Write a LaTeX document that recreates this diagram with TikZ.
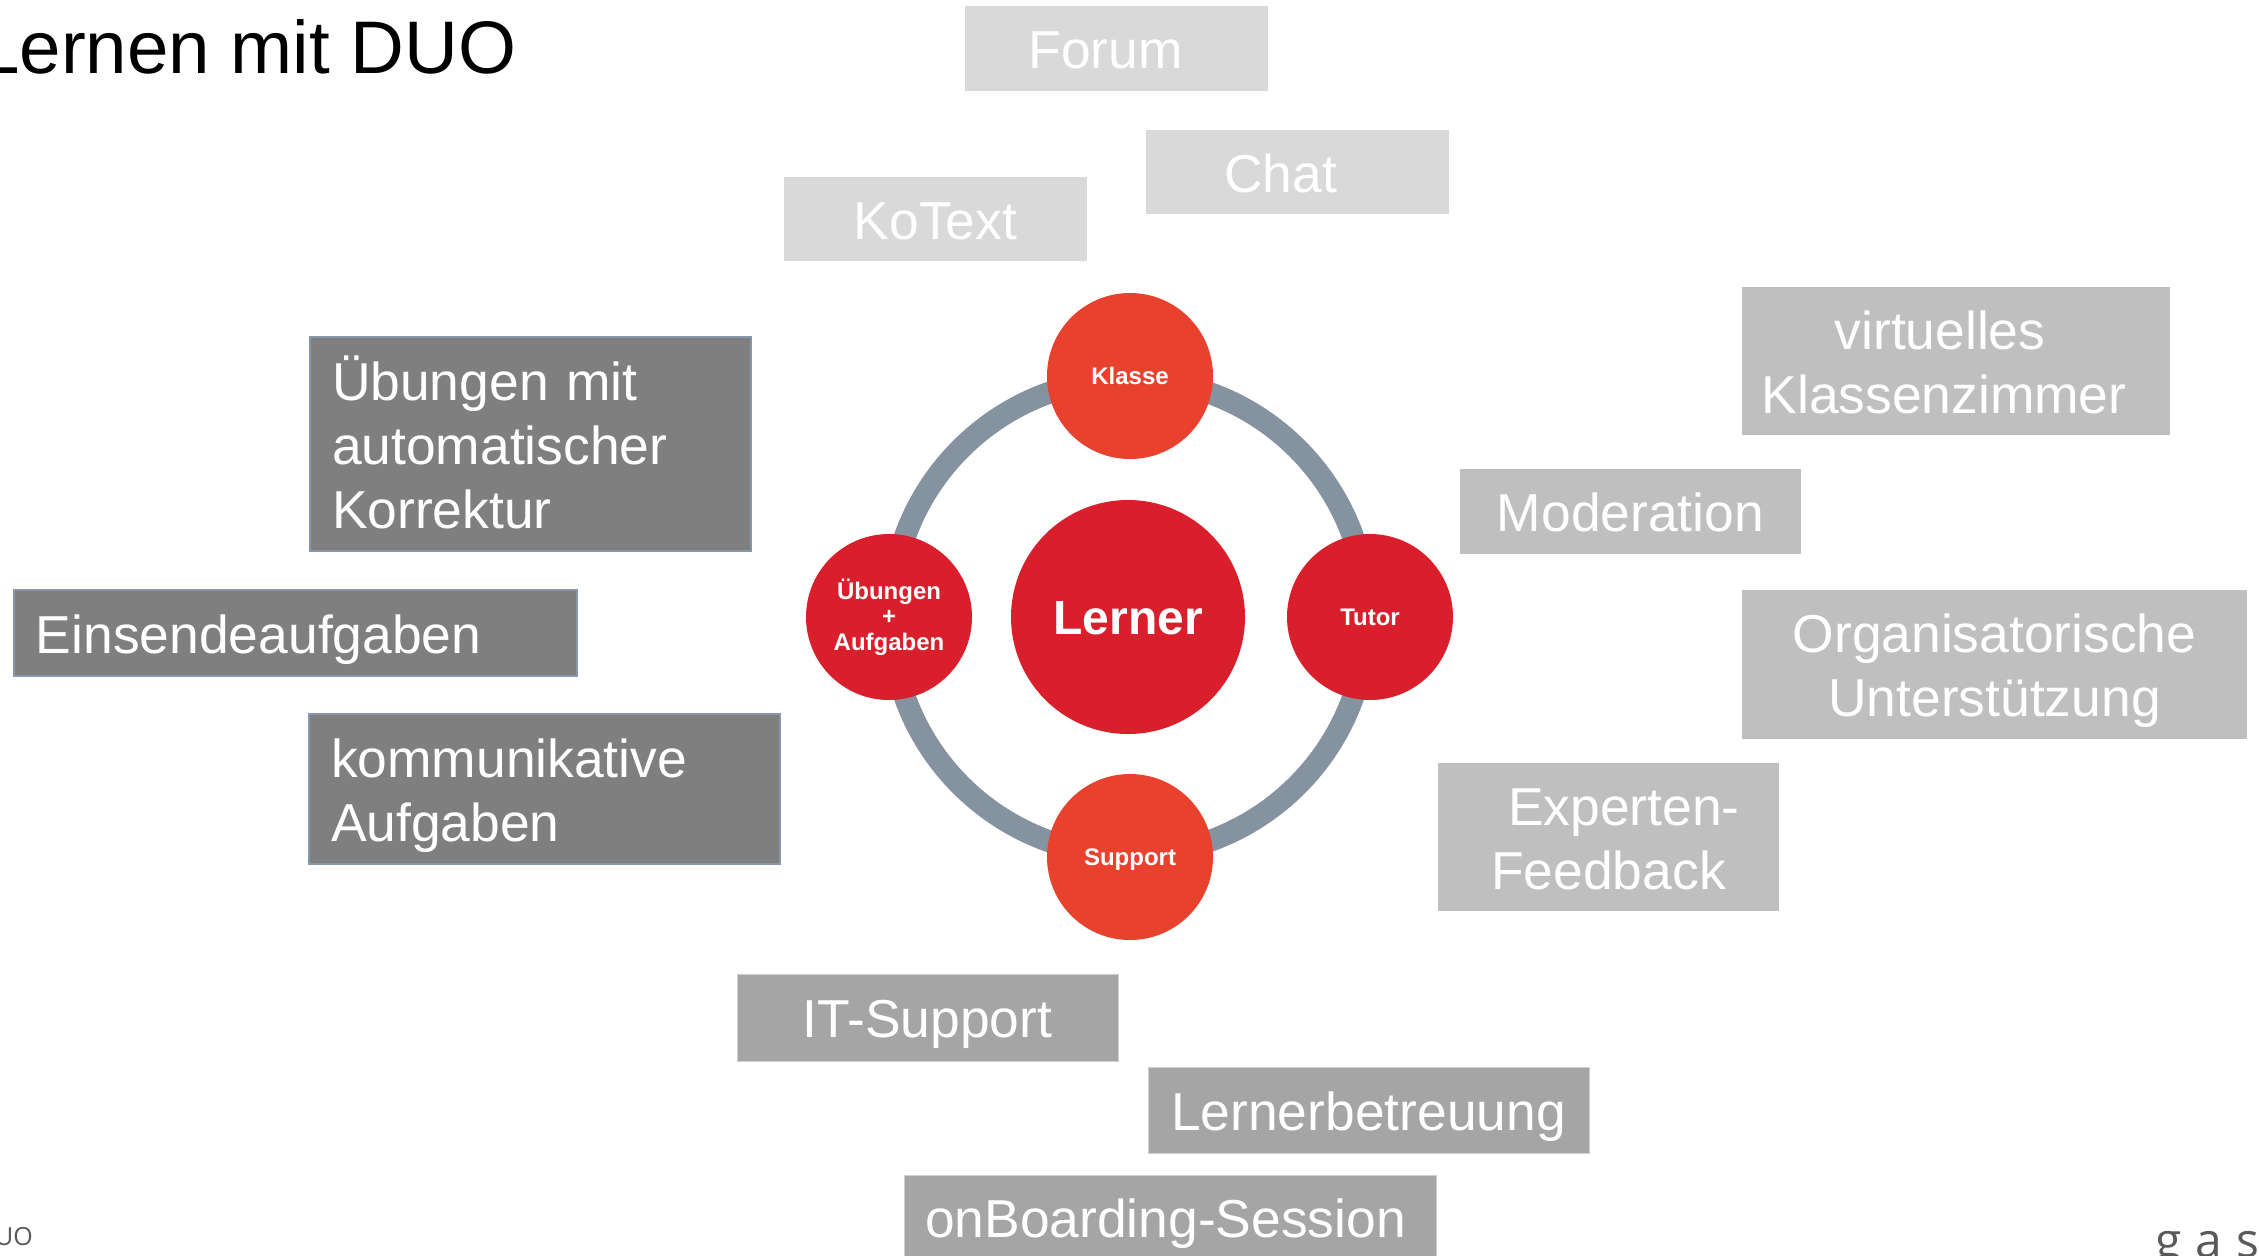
\documentclass[tikz,border=0pt]{standalone}
\usepackage{fontspec}
\setmainfont{Liberation Sans}
\newfontfamily\opensans{Open Sans}
\definecolor{cLight}{HTML}{D9D9D9}
\definecolor{cMid}{HTML}{BFBFBF}
\definecolor{cBot}{HTML}{A5A5A5}
\definecolor{cBotBorder}{HTML}{CFCFCF}
\definecolor{cDark}{HTML}{7F7F7F}
\definecolor{cDarkBorder}{HTML}{8797AB}
\definecolor{cRing}{HTML}{8593A0}
\definecolor{cRed}{HTML}{D91F2B}
\definecolor{cOrange}{HTML}{E8412D}
\definecolor{cFoot}{HTML}{595959}
\newcommand\boxfont{\fontsize{53.4bp}{64bp}\selectfont}
\newcommand\trail[1]{\hspace*{#1}\null}
\tikzset{
  box/.style={rectangle, inner sep=0pt, text=white, font=\boxfont,
    text height=40bp, text depth=0pt},
  lightbox/.style={box, fill=cLight},
  midbox/.style={box, fill=cMid, align=center},
  botbox/.style={box, fill=cBot, draw=cBotBorder, line width=1bp},
  darkbox/.style={box, fill=cDark, draw=cDarkBorder, line width=1.5bp,
    align=left, inner xsep=22bp},
  circ/.style={circle, inner sep=0pt, text=white,
    font=\bfseries\fontsize{24bp}{25.5bp}\selectfont},
  capcentered/.style={text height=17.3bp, text depth=0pt},
}
\begin{document}
\begin{tikzpicture}[x=1bp,y=-1bp]
\useasboundingbox (0,0) rectangle (2259,1255);
\fill[white] (0,0) rectangle (2259,1255);

% title
\node[anchor=base west, inner sep=0pt, font=\fontsize{74.5bp}{90bp}\selectfont]
  (title) at (-22,73) {Lernen mit DUO};

% top light boxes
\node[lightbox, minimum width=303bp, minimum height=85bp] (forum) at (1116.5,48.5) {Forum\trail{22bp}};
\node[lightbox, minimum width=303bp, minimum height=84bp] (chat) at (1297.5,172) {Chat\trail{34bp}};
\node[lightbox, minimum width=303bp, minimum height=84bp] (kotext) at (935.5,219) {KoText};

% left dark boxes
\node[darkbox, text width=397bp, minimum height=214bp, text depth=128bp]
  (uebungen) at (530.5,444) {Übungen mit\\automatischer\\Korrektur};
\node[darkbox, text width=519bp, minimum height=86bp]
  (einsende) at (295.5,633) {Einsendeaufgaben};
\node[darkbox, text width=427bp, minimum height=150bp, text depth=64bp]
  (kommunikativ) at (544.5,789) {kommunikative\\Aufgaben};

% right mid boxes
\node[midbox, text width=428bp, minimum height=148bp, text depth=64bp]
  (virtuell) at (1956,361) {virtuelles\trail{32bp}\\Klassenzimmer\trail{24bp}};
\node[box, fill=cMid, minimum width=341bp, minimum height=85bp]
  (moderation) at (1630.5,511.5) {Moderation};
\node[midbox, text width=505bp, minimum height=149bp, text depth=64bp]
  (orga) at (1994.5,664.5) {Organisatorische\\Unterstützung};
\node[midbox, text width=341bp, minimum height=148bp, text depth=64bp]
  (experten) at (1608.5,837) {\hspace*{31bp}Experten-\\Feedback};

% bottom boxes
\node[botbox, minimum width=381bp, minimum height=87bp] (itsupport) at (927.5,1017.5) {IT-Support};
\node[botbox, minimum width=441bp, minimum height=86bp] (betreuung) at (1368.5,1110) {Lernerbetreuung};
\node[botbox, minimum width=532bp, minimum height=84bp] (onboarding) at (1170,1217) {onBoarding-Session\trail{9bp}};

% ring and circles
\draw[cRing, line width=22bp] (1129,617) circle[radius=238bp];
\node[circ, fill=cRed, minimum size=234bp, capcentered,
  font=\bfseries\fontsize{48bp}{52bp}\selectfont, text height=34.4bp]
  (lerner) at (1128,617) {Lerner};
\node[circ, fill=cOrange, minimum size=166bp, capcentered] (klasse) at (1130,376) {Klasse};
\node[circ, fill=cOrange, minimum size=166bp, capcentered] (support) at (1130,857) {Support};
\node[circ, fill=cRed, minimum size=166bp, capcentered] (tutor) at (1370,617) {Tutor};
\node[circ, fill=cRed, minimum size=166bp, align=center] (uebaufg) at (889,617) {Übungen\\+\\Aufgaben};

% footer
\node[anchor=base east, inner sep=0pt, text=cFoot, font=\opensans\fontsize{25bp}{30bp}\selectfont]
  (duo) at (33,1245) {DUO};
\node[anchor=base west, inner sep=0pt, text=cFoot, font=\opensans\fontsize{48bp}{56bp}\selectfont]
  (gas) at (2155,1257) {\spaceskip=14bp\relax g a s};
\end{tikzpicture}
\end{document}
